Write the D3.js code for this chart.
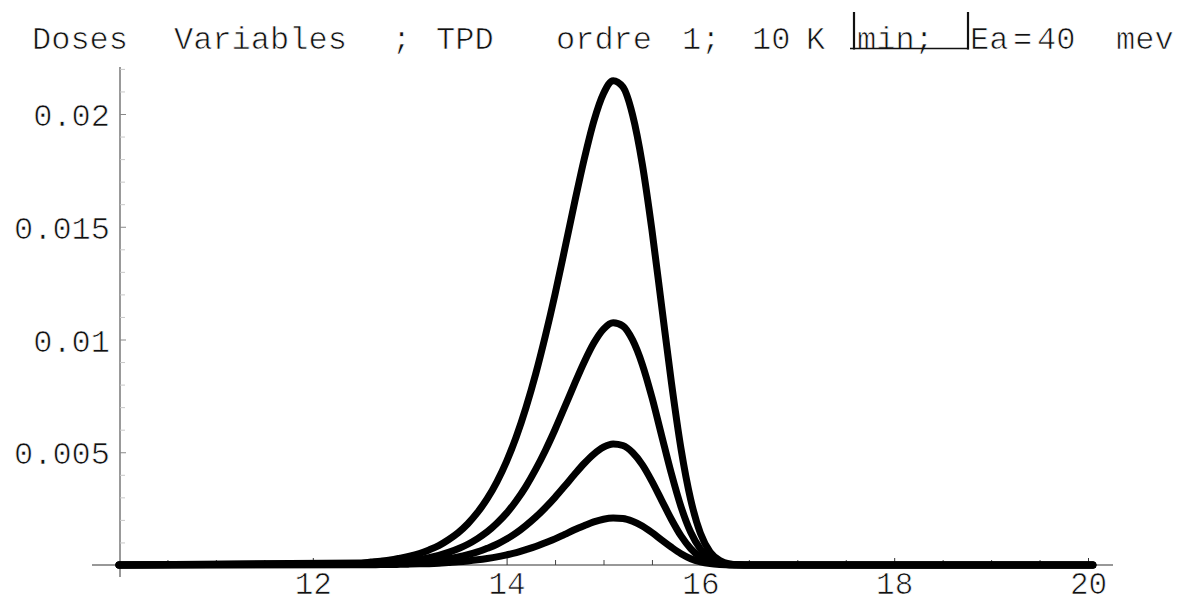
<!DOCTYPE html>
<html>
<head>
<meta charset="utf-8">
<script src="https://cdn.jsdelivr.net/npm/d3@7"></script>
<style>
  body { margin: 0; background: #fff; }
  svg { display: block; }
  .tick text { font-family: 'Liberation Mono', monospace; }
</style>
</head>
<body>
<div id="chart"></div>
<script>
// temperature (K)
const temps = [10.0,
  12.5, 12.6, 12.7, 12.8, 12.9, 13.0, 13.1, 13.2, 13.3, 13.4,
  13.5, 13.6, 13.7, 13.8, 13.9, 14.0, 14.1, 14.2, 14.3, 14.4,
  14.5, 14.6, 14.7, 14.8, 14.9, 15.0, 15.1, 15.2, 15.3, 15.4,
  15.5, 15.6, 15.7, 15.8, 15.9, 16.0, 16.1, 16.2, 16.3, 16.4,
  16.5, 20.05]

// desorption rate for the four doses
const doseA = [0,
  0.00009, 0.00013, 0.00017, 0.00022, 0.00030, 0.00039, 0.00051, 0.00067, 0.00086, 0.00112,
  0.00143, 0.00183, 0.00233, 0.00294, 0.00369, 0.00460, 0.00569, 0.00698, 0.00847, 0.01016,
  0.01201, 0.01401, 0.01604, 0.01798, 0.01968, 0.02091, 0.02148, 0.02120, 0.01996, 0.01779,
  0.01485, 0.01148, 0.00812, 0.00515, 0.00290, 0.00141, 0.00058, 0.00020, 0.00005, 0.00001,
  0, 0]
const doseB = [0,
  0.00005, 0.00006, 0.00008, 0.00011, 0.00015, 0.00019, 0.00025, 0.00033, 0.00043, 0.00056,
  0.00072, 0.00092, 0.00117, 0.00147, 0.00185, 0.00230, 0.00285, 0.00349, 0.00424, 0.00508,
  0.00601, 0.00701, 0.00802, 0.00899, 0.00984, 0.01046, 0.01074, 0.01060, 0.00998, 0.00890,
  0.00743, 0.00574, 0.00406, 0.00258, 0.00145, 0.00071, 0.00029, 0.00010, 0.00003, 0.00001,
  0, 0]
const doseC = [0,
  0.00002, 0.00003, 0.00004, 0.00006, 0.00008, 0.00010, 0.00013, 0.00017, 0.00022, 0.00028,
  0.00036, 0.00046, 0.00058, 0.00074, 0.00092, 0.00115, 0.00142, 0.00175, 0.00212, 0.00254,
  0.00300, 0.00350, 0.00401, 0.00450, 0.00492, 0.00523, 0.00537, 0.00530, 0.00499, 0.00445,
  0.00371, 0.00287, 0.00203, 0.00129, 0.00073, 0.00035, 0.00015, 0.00005, 0.00001, 0,
  0, 0]
const doseD = [0,
  0.00001, 0.00001, 0.00002, 0.00002, 0.00003, 0.00004, 0.00005, 0.00006, 0.00008, 0.00011,
  0.00014, 0.00018, 0.00023, 0.00029, 0.00036, 0.00045, 0.00055, 0.00068, 0.00082, 0.00099,
  0.00116, 0.00136, 0.00156, 0.00174, 0.00191, 0.00203, 0.00208, 0.00206, 0.00194, 0.00173,
  0.00144, 0.00111, 0.00079, 0.00050, 0.00028, 0.00014, 0.00006, 0.00002, 0, 0,
  0, 0]

const xMajor = [12, 14, 16, 18, 20]
const xMajorLabels = ['12', '14', '16', '18', '20']
const xMinor = [10.5, 11, 11.5, 12.5, 13, 13.5, 14.5, 15, 15.5, 16.5, 17, 17.5, 18.5, 19, 19.5]
const yMajor = [0.005, 0.01, 0.015, 0.02]
const yMajorLabels = ['0.005', '0.01', '0.015', '0.02']
const yMinor = [0.001, 0.002, 0.003, 0.004, 0.006, 0.007, 0.008, 0.009, 0.011, 0.012,
  0.013, 0.014, 0.016, 0.017, 0.018, 0.019, 0.021, 0.022]

const width = 1186
const height = 604

const svg = d3
  .select('#chart')
  .append('svg')
  .attr('width', width)
  .attr('height', height)
  .style('background', '#fff')

const x = d3.scaleLinear().domain([10, 20]).range([119, 1088])
const y = d3.scaleLinear().domain([0, 0.02]).range([565, 114])

// thin out the mono glyphs a little (old Mathematica fonts are light)
const thinText = (sel) => sel
  .attr('stroke', '#fff')
  .attr('stroke-width', 0.7)
  .attr('fill', '#111')

// title (Mathematica style, words spaced out)
const titleParts = [
  ['Doses', 32], ['Variables', 174], [';', 392], ['TPD', 436], ['ordre', 556],
  ['1;', 682], ['10', 752], ['K', 806], ['min;', 857], ['Ea', 970], ['=', 1013],
  ['40', 1037], ['mev', 1116],
]
const title = svg.append('g')
  .style('font-family', "'Liberation Mono', monospace")
  .style('font-size', '32px')
title.selectAll('text')
  .data(titleParts)
  .enter()
  .append('text')
  .attr('x', (d) => d[1])
  .attr('y', 49)
  .text((d) => d[0])
  .call(thinText)
// the broken fraction bar around "min;"
title.append('line').attr('x1', 850).attr('x2', 969).attr('y1', 48.5).attr('y2', 48.5)
  .attr('stroke', '#111').attr('stroke-width', 1.6)
title.append('line').attr('x1', 854).attr('x2', 854).attr('y1', 12).attr('y2', 49.5)
  .attr('stroke', '#111').attr('stroke-width', 2.2)
title.append('line').attr('x1', 968).attr('x2', 968).attr('y1', 12).attr('y2', 49.5)
  .attr('stroke', '#111').attr('stroke-width', 2.2)

// axes lines
svg.append('line')
  .attr('x1', 92).attr('x2', 1113).attr('y1', y(0)).attr('y2', y(0))
  .attr('stroke', '#333').attr('stroke-width', 1.2)
svg.append('line')
  .attr('x1', 120).attr('x2', 120).attr('y1', 67).attr('y2', 577)
  .attr('stroke', '#777').attr('stroke-width', 1.5)

// x ticks (pointing up)
const xAxisMinor = svg.append('g')
  .attr('transform', `translate(0,${y(0)})`)
  .call(d3.axisBottom(x).tickValues(xMinor).tickSize(-5).tickFormat(''))
xAxisMinor.select('.domain').remove()
xAxisMinor.selectAll('line').attr('stroke', '#444')

const xAxis = svg.append('g')
  .attr('transform', `translate(0,${y(0)})`)
  .call(
    d3.axisBottom(x)
      .tickValues(xMajor)
      .tickSize(-7)
      .tickPadding(7)
      .tickFormat((d, i) => xMajorLabels[i])
  )
xAxis.select('.domain').remove()
xAxis.selectAll('line').attr('stroke', '#333')
xAxis.selectAll('text').style('font-size', '31px').call(thinText)

// y ticks (pointing right)
const yAxisMinor = svg.append('g')
  .attr('transform', 'translate(120,0)')
  .call(d3.axisLeft(y).tickValues(yMinor).tickSize(-5).tickFormat(''))
yAxisMinor.select('.domain').remove()
yAxisMinor.selectAll('line').attr('stroke', '#c8c8c8')

const yAxis = svg.append('g')
  .attr('transform', 'translate(120,0)')
  .call(
    d3.axisLeft(y)
      .tickValues(yMajor)
      .tickSize(-6)
      .tickPadding(10)
      .tickFormat((d, i) => yMajorLabels[i])
  )
yAxis.select('.domain').remove()
yAxis.selectAll('line').attr('stroke', '#888')
yAxis.selectAll('text').style('font-size', '32px').attr('dy', '0.36em').call(thinText)

// curves drawn as thick dotted traces
const series = [doseD, doseC, doseB, doseA]
const line = d3.line()
  .x((d) => x(d[0]))
  .y((d) => y(d[1]))
  .curve(d3.curveMonotoneX)

svg.append('g')
  .selectAll('path')
  .data(series)
  .enter()
  .append('path')
  .attr('d', (s) => line(temps.map((t, i) => [t, s[i]])))
  .attr('fill', 'none')
  .attr('stroke', '#000')
  .attr('stroke-width', 7)
  .attr('stroke-linecap', 'round')
  .attr('stroke-linejoin', 'round')
</script>
</body>
</html>
